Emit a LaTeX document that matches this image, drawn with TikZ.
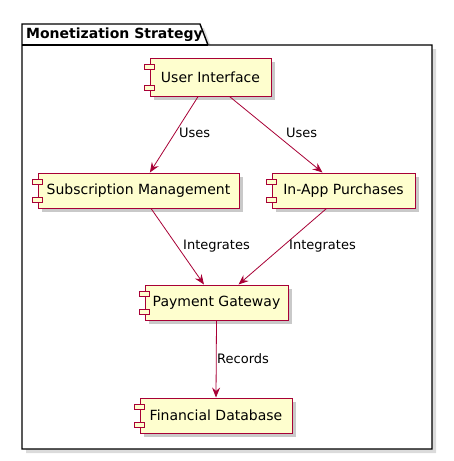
\documentclass[tikz,border=0pt]{standalone}
\usepackage{fontspec}
\setmainfont{DejaVu Sans}
\usetikzlibrary{arrows.meta,shadows,calc}
\definecolor{compfill}{HTML}{FEFECE}
\definecolor{compline}{HTML}{A80036}
\tikzset{
  comp/.style={draw=compline, line width=1pt, fill=compfill, inner sep=0pt,
    font=\fontsize{14}{16}\selectfont, rectangle,
    drop shadow={shadow xshift=4pt, shadow yshift=-4pt, opacity=0.35, fill=black!60}},
  port/.style={draw=compline, line width=1pt, fill=compfill},
  conn/.style={draw=compline, line width=0.8pt,
    -{Stealth[length=10pt,width=8pt,inset=3.5pt]}},
  lbl/.style={font=\fontsize{13}{15}\selectfont, inner sep=0pt, anchor=west},
}
\begin{document}
\begin{tikzpicture}[x=1pt,y=-1pt]
\useasboundingbox (0,0) rectangle (453,461);
% package shadow
\fill[black!40, opacity=0.35] (26,49) -- (26,28) -- (204,28) -- (212,49) -- (436,49) -- (436,453) -- (26,453) -- cycle;
% package
\draw[line width=1.4pt, fill=white] (22,45) -- (22,24) -- (200,24) -- (208,45) -- (432,45) -- (432,449) -- (22,449) -- cycle;
\draw[line width=1.4pt] (22,45) -- (208,45);
\node[font=\bfseries\fontsize{14}{16}\selectfont, anchor=west, inner sep=0pt] (title) at (26,35) {Monetization Strategy};
% components
\node[comp, minimum width=121pt, minimum height=38pt] (ui) at (210.5,77) {User Interface};
\node[comp, minimum width=201pt, minimum height=35pt] (sub) at (138.5,190.5) {Subscription Management};
\node[comp, minimum width=143pt, minimum height=35pt] (iap) at (343.5,190.5) {In-App Purchases};
\node[comp, minimum width=143pt, minimum height=35pt] (pg) at (216.5,302.5) {Payment Gateway};
\node[comp, minimum width=152pt, minimum height=35pt] (fd) at (216,415.5) {Financial Database};
\foreach \n in {ui,sub,iap,pg,fd}{
  \draw[port] ($(\n.north west)+(-5,7)$) rectangle ++(10,5);
  \draw[port] ($(\n.south west)+(-5,-11)$) rectangle ++(10,5);
}
% connectors
\draw[conn] (ui) -- (sub);
\draw[conn] ($(ui.south)+(19,0)$) -- ($(iap.north)+(-21,0)$);
\draw[conn] (sub) -- (pg);
\draw[conn] ($(iap.south)+(-17,0)$) -- ($(pg.north)+(22,0)$);
\draw[conn] (pg.south) -- (fd.north);
% labels
\node[lbl] (l1) at (179,133) {Uses};
\node[lbl] (l2) at (286,133) {Uses};
\node[lbl] (l3) at (183,246) {Integrates};
\node[lbl] (l4) at (289,246) {Integrates};
\node[lbl] (l5) at (217,359) {Records};
\end{tikzpicture}
\end{document}
